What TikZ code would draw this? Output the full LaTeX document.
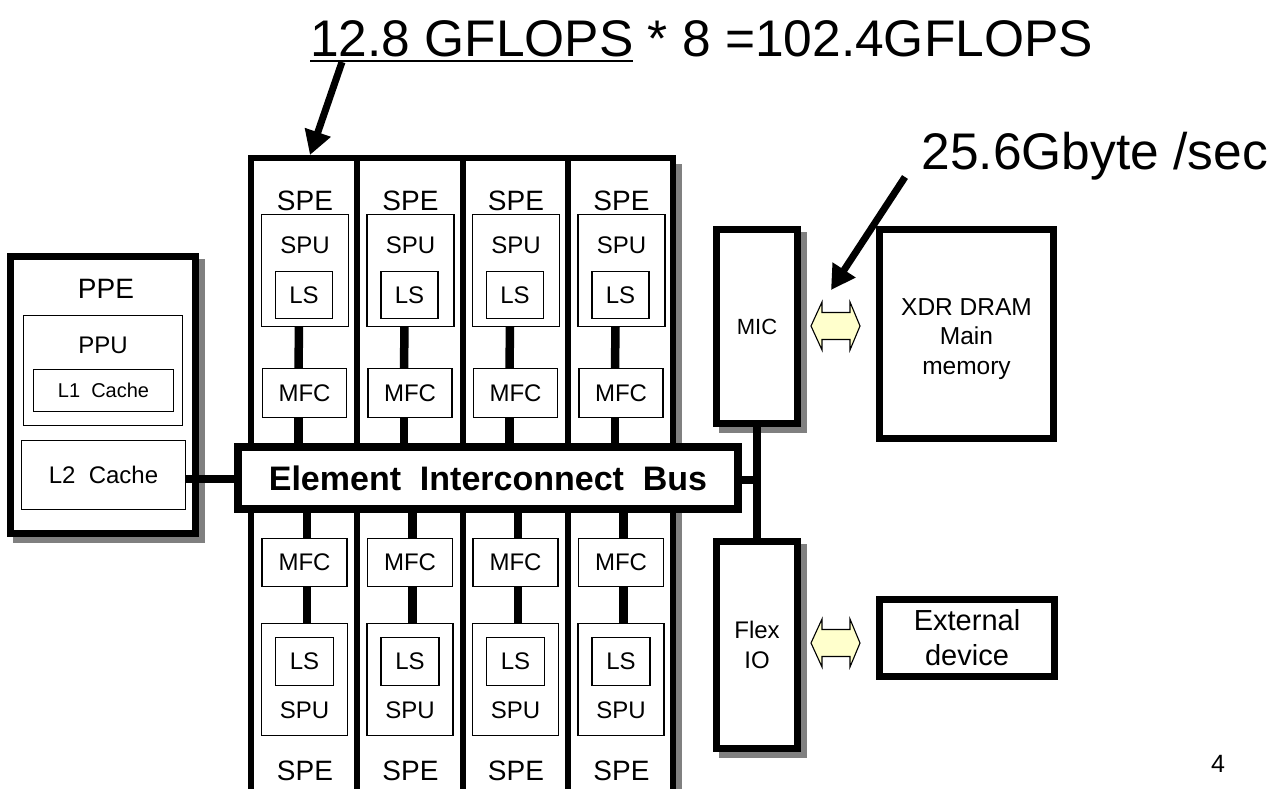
\documentclass[tikz,border=0pt]{standalone}
\usepackage{fontspec}
\setmainfont{Liberation Sans}
\usetikzlibrary{arrows.meta,backgrounds}
\definecolor{shadowgray}{RGB}{128,128,128}
\definecolor{arrowyellow}{RGB}{255,255,204}
\newcommand{\fsz}[2]{\fontsize{#1}{#2}\selectfont}
\newcommand{\boxshadow}[1]{%
  \begin{scope}[on background layer]
    \fill[shadowgray] ([shift={(2.5,2.5)}]#1.north west) rectangle ([shift={(9.5,9.5)}]#1.south east);
  \end{scope}}
\begin{document}
\begin{tikzpicture}[x=1pt,y=-1pt,
  every node/.style={inner sep=0pt, outer sep=0pt},
  heavybox/.style={draw, line width=7pt, fill=white},
  lightbox/.style={draw, line width=1.3pt, fill=white},
  busbox/.style={draw, line width=7.5pt, fill=white},
  wire/.style={line width=8.5pt},
  framerule/.style={line width=6.5pt, line join=miter},
  callout/.style={line width=7pt, -{Triangle[length=24pt,width=26pt]}},
  dblarrow/.pic={\draw[line width=1.1pt, fill=arrowyellow, line join=miter]
      (-24.5,0) -- (-13.5,-24) -- (-13.5,-13.5) -- (14.5,-13.5) -- (14.5,-24) -- (24.5,0)
      -- (14.5,24) -- (14.5,13.5) -- (-13.5,13.5) -- (-13.5,24) -- cycle;},
  bigtext/.style={font=\fsz{51.5}{60}},
  labA/.style={font=\fsz{28}{34}},
  labB/.style={font=\fsz{24}{29}}
]
\useasboundingbox (0,0) rectangle (1280,789);
\begin{scope}[on background layer]
  \fill[white] (0,0) rectangle (1280,789);
\end{scope}

% ---------- title and callouts ----------
\node[bigtext, anchor=base west] (t1) at (310,57) {12.8 GFLOPS};
\node[bigtext, anchor=base west] (t2) at (t1.base east) {\ * 8 =102.4GFLOPS};
\draw[line width=2pt] ([yshift=-4pt]t1.base west) -- ([yshift=-4pt]t1.base east);
\coordinate (speCorner) at (310,155);
\draw[callout] ([shift={(32,5)}]t1.base west) -- (speCorner);

\node[bigtext, anchor=base west] (bw) at (921.5,170) {25.6Gbyte /sec};
\coordinate (memLink) at (831,290);
\draw[callout] ([shift={(-16.5,7)}]bw.base west) -- (memLink);

% ---------- SPE frame ----------
\fill[shadowgray] (676,164) rectangle (682,795);
\draw[framerule] (251,795) -- (251,158) -- (673,158) -- (673,795);
\foreach \x in {357,463,568} \draw[framerule] (\x,158) -- (\x,795);

% ---------- bus ----------
\node[busbox, minimum width=500pt, minimum height=62pt, font=\bfseries\fsz{34}{40}] (eib) at (488,478) {Element\ \ Interconnect\ \ Bus};

% ---------- SPE columns ----------
\foreach \i in {0,1,2,3}{
  \pgfmathsetmacro{\dx}{105.5*\i}
  % upper row
  \node[lightbox, minimum width=87pt, minimum height=112pt] (spuT\i) at (305+\dx,270.5) {};
  \node[lightbox, labB, minimum width=57pt, minimum height=47pt] (lsT\i) at (304+\dx,295) {LS};
  \node[lightbox, labB, minimum width=84pt, minimum height=49pt] (mfcT\i) at (304.5+\dx,393) {MFC};
  \node[labA, anchor=base] (speT\i) at (305+\dx,211) {SPE};
  \node[labB, anchor=base] (spuTl\i) at (305+\dx,253) {SPU};
  \draw[wire] ([xshift=-6pt]spuT\i.south) -- ([xshift=-6pt]mfcT\i.north);
  \draw[wire] ([xshift=-6pt]mfcT\i.south) -- ([xshift=-6pt]mfcT\i.south |- eib.north);
  % lower row
  \node[lightbox, labB, minimum width=85pt, minimum height=48pt] (mfcB\i) at (304.5+\dx,562.5) {MFC};
  \node[lightbox, minimum width=86pt, minimum height=112pt] (spuB\i) at (304.5+\dx,679.5) {};
  \node[lightbox, labB, minimum width=58pt, minimum height=48pt] (lsB\i) at (304.5+\dx,661.5) {LS};
  \node[labB, anchor=base] (spuBl\i) at (304.5+\dx,718) {SPU};
  \node[labA, anchor=base] (speB\i) at (305+\dx,780) {SPE};
  \draw[wire] ([xshift=2.5pt]mfcB\i.north |- eib.south) -- ([xshift=2.5pt]mfcB\i.north);
  \draw[wire] ([xshift=2.5pt]mfcB\i.south) -- ([xshift=2.5pt]spuB\i.north);
}

% ---------- PPE ----------
\node[heavybox, minimum width=185pt, minimum height=277pt] (ppe) at (103,395) {};
\boxshadow{ppe}
\node[labA, anchor=base] (ppel) at (106,298) {PPE};
\node[lightbox, minimum width=158.5pt, minimum height=109.5pt] (ppu) at (103,370.5) {};
\node[labB, anchor=base] (ppul) at (103,353) {PPU};
\node[lightbox, minimum width=139.5pt, minimum height=41.5pt, font=\fsz{20}{24}] (l1) at (103.5,390.5) {L1\ \ Cache};
\node[lightbox, labB, minimum width=163.5pt, minimum height=68.5pt] (l2) at (103.5,475) {L2\ \ Cache};
\draw[wire] ([yshift=-4pt]l2.east) -- ([yshift=-4pt]l2.east -| eib.west);

% ---------- MIC / Flex IO ----------
\node[heavybox, minimum width=81pt, minimum height=194pt, font=\fsz{22}{26}] (mic) at (757,326.5) {MIC};
\boxshadow{mic}
\node[heavybox, minimum width=81pt, minimum height=207pt, align=center, font=\fsz{24}{30}] (flex) at (757,645) {Flex\\IO};
\boxshadow{flex}
\draw[wire] (mic.south) -- (flex.north);
\draw[wire] ([yshift=-2pt]eib.east) -- ([yshift=-2pt]eib.east -| mic.south);

% ---------- memory and device ----------
\node[heavybox, minimum width=174pt, minimum height=209pt] (xdr) at (966.5,334) {};
\node[align=center, font=\fsz{24.5}{29.5}] (xdrl) at (966.5,339) {XDR DRAM\\Main\\memory};
\node[heavybox, minimum width=175pt, minimum height=77pt, align=center, font=\fsz{29}{35}] (ext) at (967,638) {External\\device};

\pic at (835.5,326) {dblarrow};
\pic at (835.5,643) {dblarrow};

% ---------- page number ----------
\node[anchor=base, font=\fsz{25}{30}] (pg) at (1218,772) {4};
\end{tikzpicture}
\end{document}
